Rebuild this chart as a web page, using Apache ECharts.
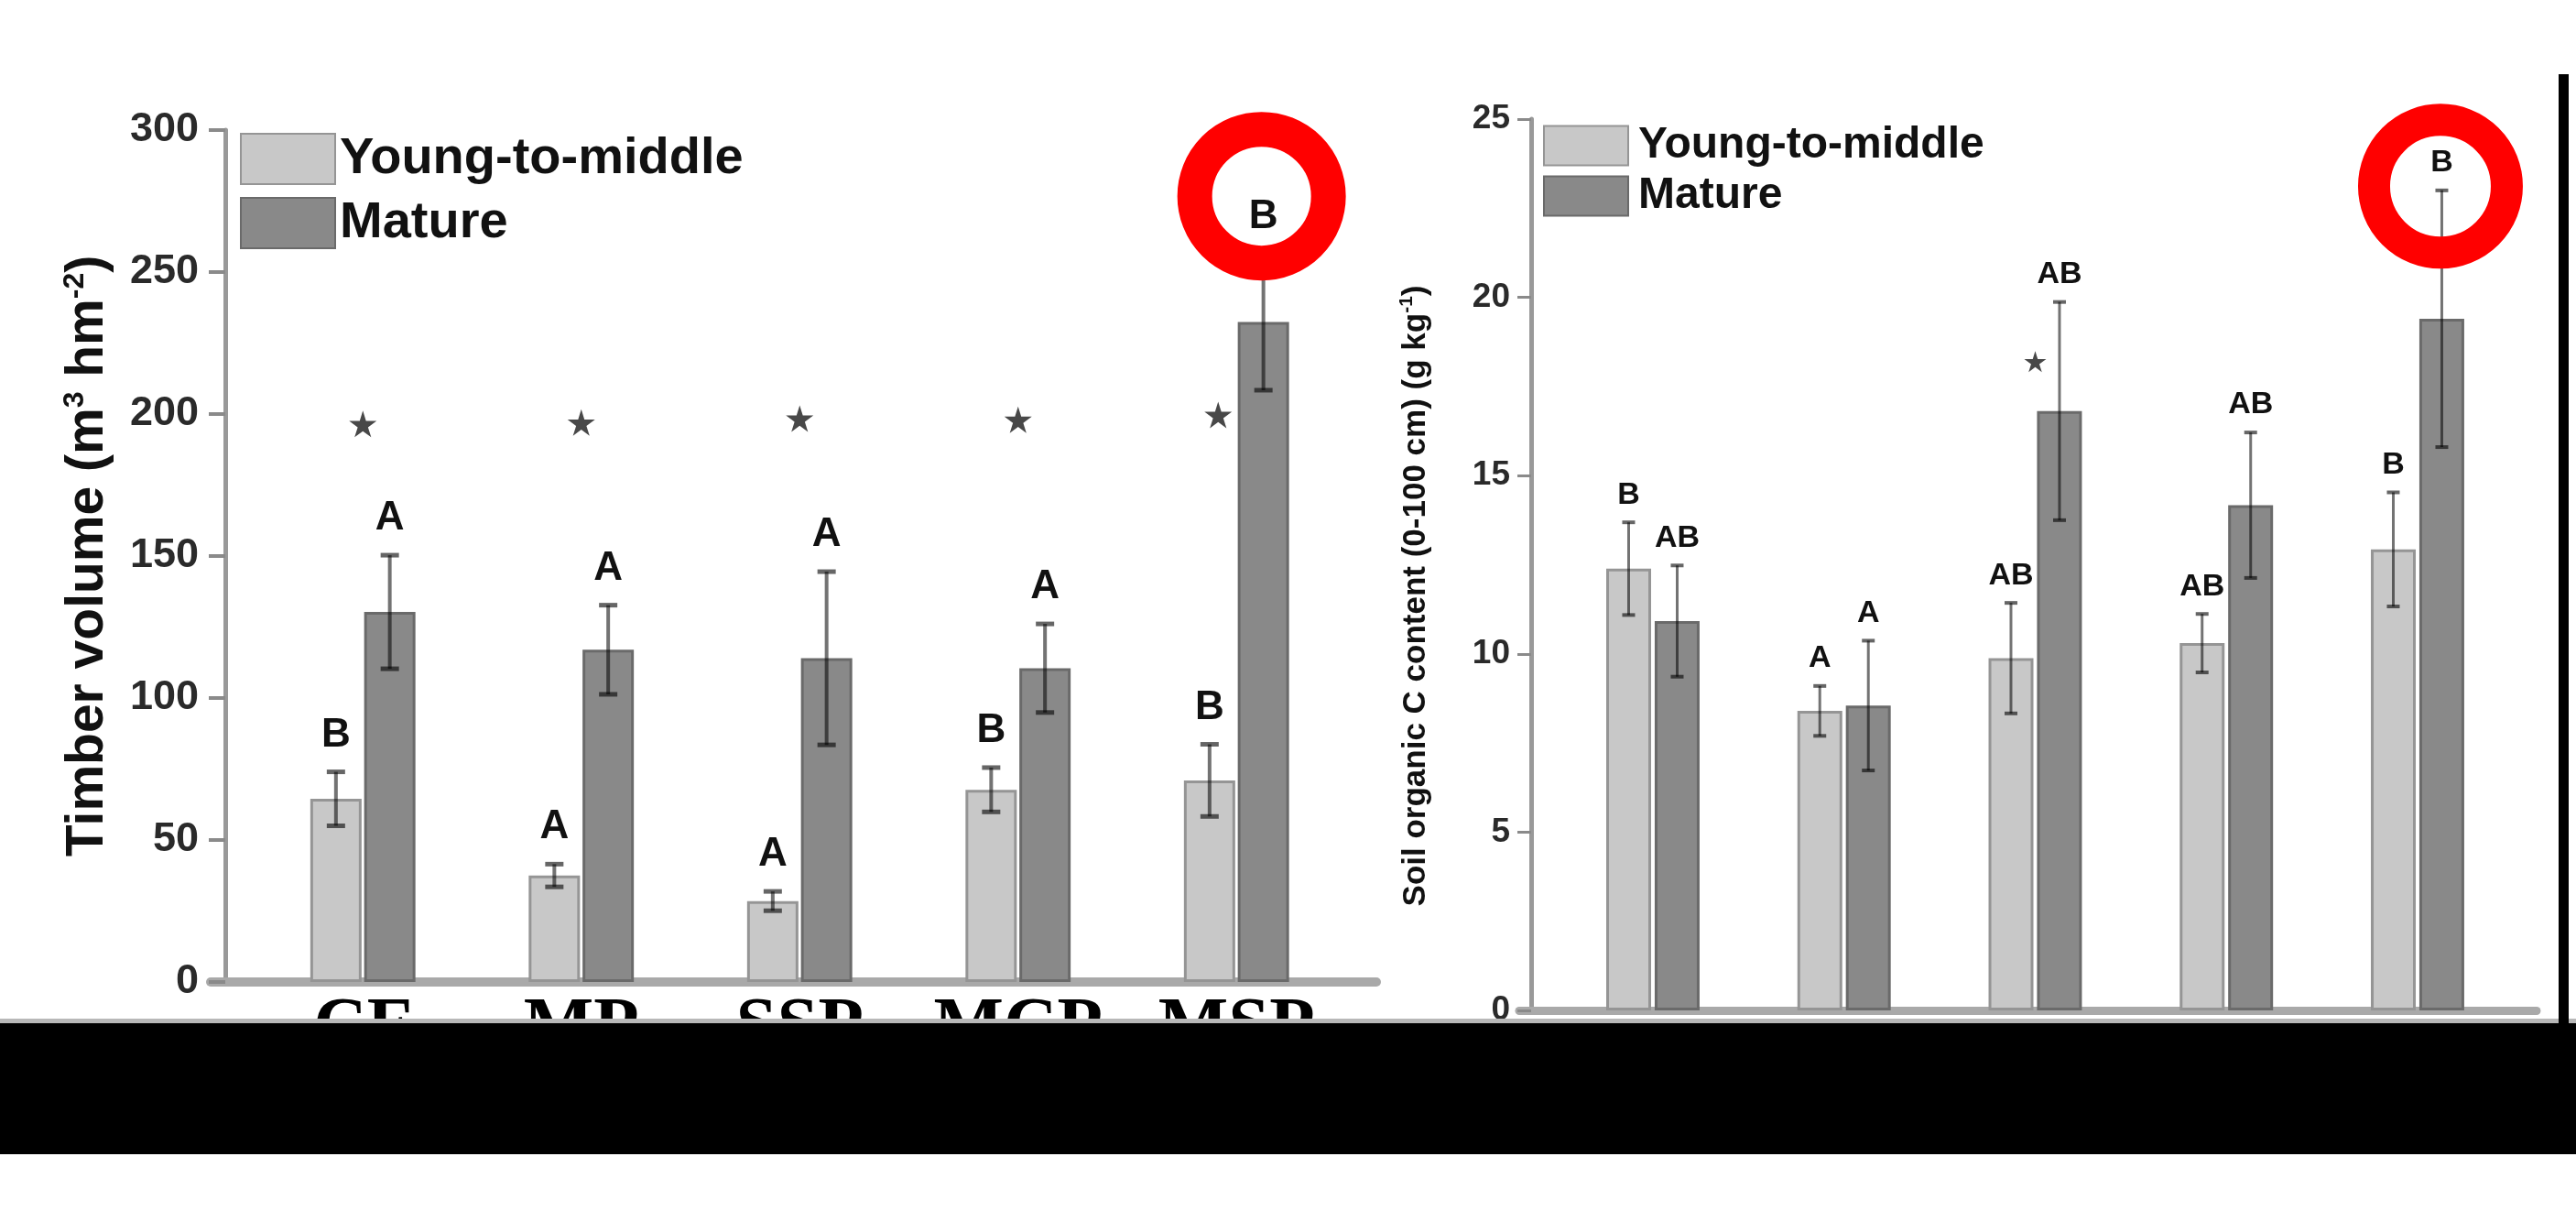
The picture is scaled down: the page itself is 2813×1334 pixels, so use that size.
<!DOCTYPE html>
<html><head><meta charset="utf-8">
<script src="https://cdn.jsdelivr.net/npm/echarts@6/dist/echarts.min.js"></script>
<style>html,body{margin:0;padding:0;background:#fff}#c{width:2813px;height:1334px}</style>
</head><body><div id="c"></div>
<script>
// ---------- data ----------
const categories = ['CF', 'MP', 'SSP', 'MCP', 'MSP'];
const seriesNames = ['Young-to-middle', 'Mature'];

// Left panel: timber volume (m3 hm-2)
const timberYoung      = [64.5, 37.5, 28.5, 67.7, 71.0];
const timberYoungErr   = [9.5, 4.0, 3.4, 7.8, 12.7];
const timberMature     = [130.3, 117.0, 114.0, 110.5, 232.4];
const timberMatureErr  = [20.0, 15.7, 30.5, 15.6, 24.0];
const timberLettersYoung  = ['B', 'A', 'A', 'B', 'B'];
const timberLettersMature = ['A', 'A', 'A', 'A', 'B'];
const timberStars = [196.5, 197.0, 198.4, 198.0, 199.7];
const timberTicks = [0, 50, 100, 150, 200, 250, 300];

// Right panel: soil organic C content (0-100 cm) (g kg-1)
const socYoung      = [12.39, 8.40, 9.88, 10.30, 12.93];
const socYoungErr   = [1.30, 0.70, 1.55, 0.82, 1.60];
const socMature     = [10.92, 8.55, 16.81, 14.17, 19.40];
const socMatureErr  = [1.56, 1.82, 3.06, 2.04, 3.60];
const socLettersYoung  = ['B', 'A', 'AB', 'AB', 'B'];
const socLettersMature = ['AB', 'A', 'AB', 'AB', 'B'];
const socStars = ['-', '-', 18.2, '-', '-'];
const socTicks = [0, 5, 10, 15, 20, 25];

const highlightCategory = 4; // circled mature bar

// ---------- styles ----------
const SANS = "'Liberation Sans', Arial, sans-serif";
const youngStyle = { color: '#c8c8c8', borderColor: '#959595', borderWidth: 3 };
const matureStyle = { color: '#898989', borderColor: '#6a6a6a', borderWidth: 3 };
const STAR = 'path://M50,0 L61,35 L98,35 L68,57 L79,91 L50,70 L21,91 L32,57 L2,35 L39,35 Z';

function errSeries(xi, yi, young, youngErr, mature, matureErr, lY, lM, st) {
  const data = [], letters = [];
  categories.forEach((c, i) => {
    data.push([i, young[i], youngErr[i], 0]); letters.push(lY[i]);
    data.push([i, mature[i], matureErr[i], 1]); letters.push(lM[i]);
  });
  return {
    type: 'custom', xAxisIndex: xi, yAxisIndex: yi, z: 5, clip: false, silent: true,
    data: data,
    renderItem: function (params, api) {
      const i = api.value(0), v = api.value(1), e = api.value(2), s = api.value(3);
      const hi = api.coord([i, v + e]), lo = api.coord([i, v - e]);
      const x = hi[0] + (s === 0 ? -st.off : st.off);
      const ch = [
        { type: 'line', shape: { x1: x, y1: hi[1], x2: x, y2: lo[1] }, style: { stroke: st.lineColor, lineWidth: st.lw } },
        { type: 'line', shape: { x1: x - st.cap / 2, y1: hi[1], x2: x + st.cap / 2, y2: hi[1] }, style: { stroke: st.capColor, lineWidth: st.capW } },
        { type: 'line', shape: { x1: x - st.cap / 2, y1: lo[1], x2: x + st.cap / 2, y2: lo[1] }, style: { stroke: st.capColor, lineWidth: st.capW } },
        { type: 'text', x: x, y: hi[1] - st.gap, style: { text: letters[params.dataIndex], fontSize: st.fs, fontWeight: 'bold', fontFamily: SANS, fill: '#111', align: 'center', verticalAlign: 'middle' } }
      ];
      if (s === 1 && i === highlightCategory) {
        ch.push({ type: 'circle', shape: { cx: x + st.ringDx, cy: hi[1] + st.ringDy, r: st.ringR }, style: { fill: 'none', stroke: '#ff0000', lineWidth: st.ringW } });
      }
      return { type: 'group', children: ch };
    }
  };
}

const chart = echarts.init(document.getElementById('c'), null, { renderer: 'canvas' });
const option = {
  animation: false,
  backgroundColor: '#ffffff',
  grid: [
    { left: 230, top: 142, width: 1273, height: 930, outerBoundsMode: 'none' },
    { left: 277, top: 142, width: 1192.5, height: 930, outerBoundsMode: 'none' },
    { left: 1659, top: 130, width: 1111, height: 973, outerBoundsMode: 'none' },
    { left: 1700.6, top: 130, width: 1043.75, height: 973, outerBoundsMode: 'none' }
  ],
  xAxis: [
    { gridIndex: 0, type: 'value', min: -16, max: 1257,
      axisLine: { show: true, lineStyle: { color: '#a9a9a9', width: 10 } },
      axisTick: { show: false }, axisLabel: { show: false }, splitLine: { show: false } },
    { gridIndex: 1, type: 'category', data: categories,
      axisLine: { show: false }, axisTick: { show: false }, splitLine: { show: false },
      axisLabel: { interval: 0, margin: 11, fontFamily: "'Liberation Serif', 'Times New Roman', serif", fontWeight: 'bold', fontSize: 81, lineHeight: 81, color: '#000' } },
    { gridIndex: 2, type: 'value', min: -13, max: 1098,
      axisLine: { show: true, lineStyle: { color: '#a9a9a9', width: 9 } },
      axisTick: { show: false }, axisLabel: { show: false }, splitLine: { show: false } },
    { gridIndex: 3, type: 'category', data: categories,
      axisLine: { show: false }, axisTick: { show: false }, splitLine: { show: false }, axisLabel: { show: false } }
  ],
  yAxis: [
    { gridIndex: 0, type: 'value', min: timberTicks[0], max: timberTicks[timberTicks.length - 1], interval: 50,
      axisLine: { show: true, onZero: true, lineStyle: { color: '#999999', width: 5 } },
      axisTick: { show: true, length: 18, lineStyle: { color: '#8a8a8a', width: 4 } },
      axisLabel: { margin: 13, fontFamily: SANS, fontWeight: 'bold', fontSize: 45, color: '#2a2a2a' },
      splitLine: { show: false },
      name: '{t|Timber volume (m}{s|3}{t| hm}{s|-2}{t|)}',
      nameLocation: 'middle', nameRotate: 90, nameGap: 104, nameMoveOverlap: false,
      nameTextStyle: { rich: {
        t: { fontFamily: SANS, fontWeight: 'bold', fontSize: 57, lineHeight: 60, color: '#111' },
        s: { fontFamily: SANS, fontWeight: 'bold', fontSize: 32, lineHeight: 32, color: '#111', verticalAlign: 'top' } } } },
    { gridIndex: 1, type: 'value', min: 0, max: 300, show: false },
    { gridIndex: 2, type: 'value', min: socTicks[0], max: socTicks[socTicks.length - 1], interval: 5,
      axisLine: { show: true, onZero: true, lineStyle: { color: '#999999', width: 5 } },
      axisTick: { show: true, length: 15, lineStyle: { color: '#8a8a8a', width: 3 } },
      axisLabel: { margin: 10, fontFamily: SANS, fontWeight: 'bold', fontSize: 37, color: '#2a2a2a' },
      splitLine: { show: false },
      name: '{t|Soil organic C content (0-100 cm) (g kg}{s|-1}{t|)}',
      nameLocation: 'middle', nameRotate: 90, nameGap: 93, nameMoveOverlap: false,
      nameTextStyle: { padding: [0, 68, 0, 0], rich: {
        t: { fontFamily: SANS, fontWeight: 'bold', fontSize: 35, lineHeight: 40, color: '#111' },
        s: { fontFamily: SANS, fontWeight: 'bold', fontSize: 21, lineHeight: 21, color: '#111', verticalAlign: 'top' } } } },
    { gridIndex: 3, type: 'value', min: 0, max: 25, show: false }
  ],
  legend: [
    { orient: 'vertical', left: 262, top: 145, padding: 0, itemWidth: 103, itemHeight: 55, itemGap: 13,
      icon: 'rect', selectedMode: false, data: seriesNames,
      textStyle: { fontFamily: SANS, fontWeight: 'bold', fontSize: 56, lineHeight: 55, color: '#111' } },
    { orient: 'vertical', left: 1685, top: 135, padding: 0, itemWidth: 92, itemHeight: 43, itemGap: 7,
      icon: 'rect', selectedMode: false, data: seriesNames,
      textStyle: { fontFamily: SANS, fontWeight: 'bold', fontSize: 48, lineHeight: 43, color: '#111', padding: [0, 0, 0, 6] } }
  ],
  series: [
    { name: seriesNames[0], type: 'bar', xAxisIndex: 1, yAxisIndex: 1, barWidth: 56, barGap: '5%', itemStyle: youngStyle, data: timberYoung },
    { name: seriesNames[1], type: 'bar', xAxisIndex: 1, yAxisIndex: 1, barWidth: 56, barGap: '5%', itemStyle: matureStyle, data: timberMature },
    errSeries(1, 1, timberYoung, timberYoungErr, timberMature, timberMatureErr, timberLettersYoung, timberLettersMature,
      { off: 29.4, lw: 4, cap: 20, capW: 5, lineColor: 'rgba(0,0,0,0.55)', capColor: 'rgba(0,0,0,0.6)', gap: 40, fs: 44, ringDx: -2, ringDy: -63, ringR: 73, ringW: 38 }),
    { type: 'scatter', xAxisIndex: 1, yAxisIndex: 1, symbol: STAR, symbolSize: [30, 29], silent: true, z: 6,
      itemStyle: { color: '#1a1a1a' },
      data: timberStars.map((v, i) => ({ value: v, symbolOffset: i === highlightCategory ? [-20, 0] : [0, 0] })) },

    { name: seriesNames[0], type: 'bar', xAxisIndex: 3, yAxisIndex: 3, barWidth: 49, barGap: '8%', itemStyle: youngStyle, data: socYoung },
    { name: seriesNames[1], type: 'bar', xAxisIndex: 3, yAxisIndex: 3, barWidth: 49, barGap: '8%', itemStyle: matureStyle, data: socMature },
    errSeries(3, 3, socYoung, socYoungErr, socMature, socMatureErr, socLettersYoung, socLettersMature,
      { off: 26.5, lw: 3, cap: 14, capW: 4, lineColor: 'rgba(0,0,0,0.55)', capColor: 'rgba(0,0,0,0.6)', gap: 30, fs: 34, ringDx: -1.5, ringDy: -4.5, ringR: 72.5, ringW: 35 }),
    { type: 'scatter', xAxisIndex: 3, yAxisIndex: 3, symbol: STAR, symbolSize: [24, 23], silent: true, z: 6,
      itemStyle: { color: '#1a1a1a' }, data: socStars }
  ],
  graphic: { elements: [
    { type: 'rect', z: 100, silent: true, shape: { x: 0, y: 1112, width: 2813, height: 5 }, style: { fill: '#b8b8b8' } },
    { type: 'rect', z: 101, silent: true, shape: { x: 0, y: 1117, width: 2813, height: 143 }, style: { fill: '#000' } },
    { type: 'rect', z: 101, silent: true, shape: { x: 2794, y: 81, width: 11, height: 1040 }, style: { fill: '#000' } }
  ] }
};
chart.setOption(option);
</script>
</body></html>
